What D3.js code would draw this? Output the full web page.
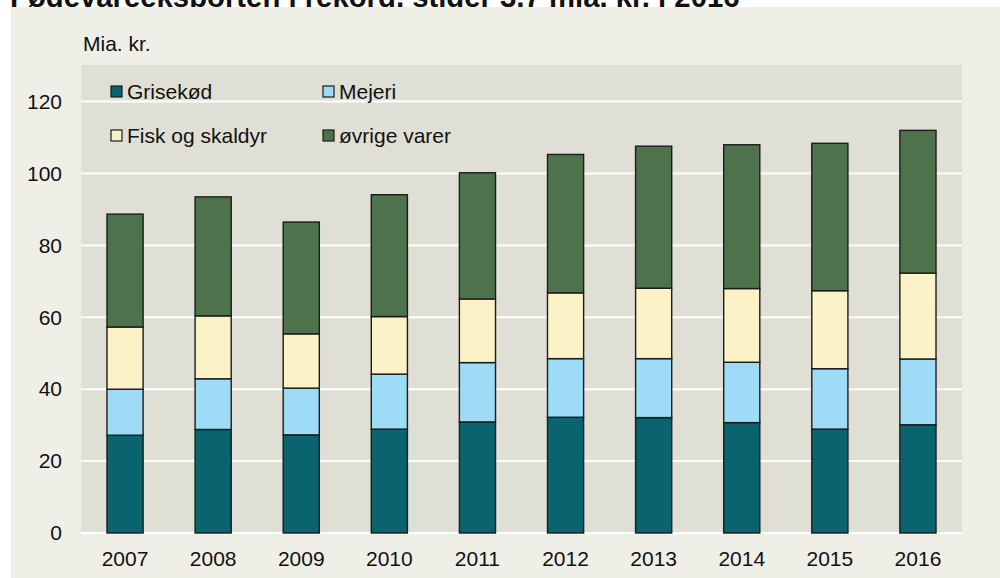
<!DOCTYPE html>
<html>
<head>
<meta charset="utf-8">
<script src="https://cdn.jsdelivr.net/npm/d3@7"></script>
<style>
  body { margin: 0; background: #ffffff; }
  svg { display: block; font-family: "Liberation Sans", Arial, sans-serif; }
</style>
</head>
<body>
<svg id="chart" width="1000" height="578"></svg>
<script>
const title = "Fødevareeksporten i rekord, stiger 3,7 mia. kr. i 2016";
const unitLabel = "Mia. kr.";
const years = ["2007","2008","2009","2010","2011","2012","2013","2014","2015","2016"];
const seriesNames = ["Grisekød","Mejeri","Fisk og skaldyr","øvrige varer"];
const grisekod = [27.2, 28.8, 27.3, 28.9, 30.9, 32.2, 32.1, 30.7, 28.9, 30.1];
const mejeri   = [12.8, 14.1, 13.0, 15.3, 16.5, 16.3, 16.4, 16.8, 16.8, 18.3];
const fisk     = [17.3, 17.5, 15.1, 16.0, 17.7, 18.3, 19.6, 20.5, 21.7, 23.9];
const ovrige   = [31.4, 33.1, 31.1, 33.9, 35.1, 38.5, 39.5, 40.0, 41.0, 39.7];
const yTicks = [0, 20, 40, 60, 80, 100, 120];

const colors = ["#09646f", "#9ddbf7", "#fcf2c8", "#4e734c"];

const svg = d3.select("#chart");

// title (cut off at top in the reference)
svg.append("text")
  .attr("x", 10).attr("y", 6.5)
  .attr("font-size", 29.3).attr("font-weight", "bold").attr("fill", "#111")
  .text(title);

// outer panel
svg.append("rect").attr("x", 11).attr("y", 7).attr("width", 989).attr("height", 571)
  .attr("fill", "#efefe8");

const plot = { left: 81, right: 962, top: 65, bottom: 534 };

const x = d3.scaleBand().domain(years).range([plot.left, plot.right])
  .paddingInner(0.59).paddingOuter(0.295);
const y = d3.scaleLinear().domain([0, 130]).range([533, 533 - 130 * 3.595]);

// plot background
svg.append("rect").attr("x", plot.left).attr("y", plot.top)
  .attr("width", plot.right - plot.left).attr("height", plot.bottom - plot.top)
  .attr("fill", "#e0dfd5");

// gridlines
svg.append("g").selectAll("line").data(yTicks).join("line")
  .attr("x1", plot.left).attr("x2", plot.right)
  .attr("y1", d => y(d)).attr("y2", d => y(d))
  .attr("stroke", "#ffffff").attr("stroke-width", 2);

// y axis labels
const yAxis = d3.axisLeft(y).tickValues(yTicks).tickSize(0).tickPadding(0);
const yg = svg.append("g").attr("transform", `translate(62,0)`).call(yAxis);
yg.select(".domain").remove();
yg.selectAll("text").attr("font-size", 21).attr("fill", "#111")
  .attr("font-family", "Liberation Sans, Arial, sans-serif");

// x axis labels
const xAxis = d3.axisBottom(x).tickSize(0).tickPadding(0);
const xg = svg.append("g").attr("transform", `translate(0,551)`).call(xAxis);
xg.select(".domain").remove();
xg.selectAll("text").attr("font-size", 21).attr("fill", "#111")
  .attr("font-family", "Liberation Sans, Arial, sans-serif");

// stacked data
const table = years.map((yr, i) => ({
  year: yr,
  "Grisekød": grisekod[i],
  "Mejeri": mejeri[i],
  "Fisk og skaldyr": fisk[i],
  "øvrige varer": ovrige[i]
}));
const stacked = d3.stack().keys(seriesNames)(table);

svg.append("g").selectAll("g").data(stacked).join("g")
  .attr("fill", (d, i) => colors[i])
  .selectAll("rect").data(d => d).join("rect")
  .attr("x", d => x(d.data.year))
  .attr("width", x.bandwidth())
  .attr("y", d => y(d[1]))
  .attr("height", d => y(d[0]) - y(d[1]))
  .attr("stroke", "#1c1c1c").attr("stroke-width", 1.4);

// legend
const legendPos = [
  { x: 111, y: 86 }, { x: 323, y: 86 },
  { x: 111, y: 130 }, { x: 323, y: 130 }
];
const lg = svg.append("g").selectAll("g").data(seriesNames).join("g")
  .attr("transform", (d, i) => `translate(${legendPos[i].x},${legendPos[i].y})`);
lg.append("rect").attr("width", 11).attr("height", 11)
  .attr("fill", (d, i) => colors[i]).attr("stroke", "#1c1c1c").attr("stroke-width", 1.2);
lg.append("text").attr("x", 16).attr("y", 13).attr("font-size", 21).attr("fill", "#111")
  .text(d => d);

// unit label
svg.append("text").attr("x", 83).attr("y", 51).attr("font-size", 21).attr("fill", "#111")
  .text(unitLabel);
</script>
</body>
</html>
